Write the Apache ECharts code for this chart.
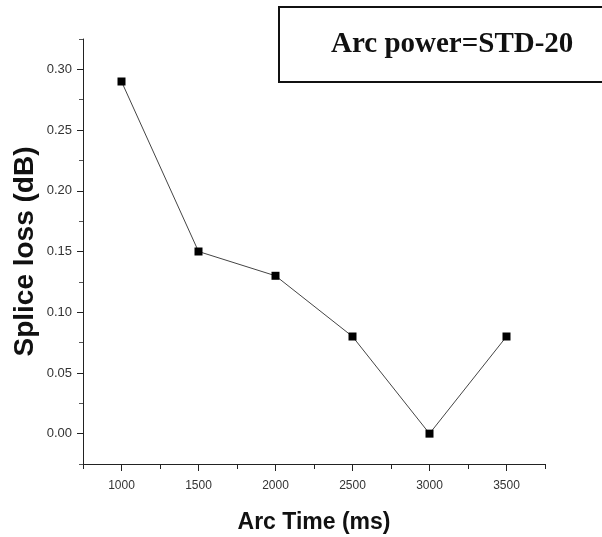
<!DOCTYPE html>
<html>
<head>
<meta charset="utf-8">
<script src="https://cdn.jsdelivr.net/npm/echarts@6/dist/echarts.min.js"></script>
<style>
  html, body { margin: 0; padding: 0; background: #fff; }
  #chart { width: 602px; height: 537px; }
</style>
</head>
<body>
<div id="chart"></div>
<script>
// arc time (ms) vs splice loss (dB)
const arcTime = [1000, 1500, 2000, 2500, 3000, 3500];
const spliceLoss = [0.29, 0.15, 0.13, 0.08, 0.00, 0.08];
const xMajorTicks = [1000, 1500, 2000, 2500, 3000, 3500];
const xMinorTicks = [750, 1250, 1750, 2250, 2750, 3250, 3750];
const yMajorTicks = [0, 0.05, 0.10, 0.15, 0.20, 0.25, 0.30];
const yMinorTicks = [-0.025, 0.025, 0.075, 0.125, 0.175, 0.225, 0.275, 0.325];

const chart = echarts.init(document.getElementById('chart'));

const axisColor = '#222';
const labelFont = 'Liberation Sans, Arial, sans-serif';

chart.setOption({
  animation: false,
  title: {
    text: 'Arc power=STD-20',
    left: 279,
    top: 7,
    padding: [23, 60, 23, 52],
    borderColor: '#111',
    borderWidth: 2,
    textStyle: {
      fontFamily: 'Liberation Serif, Times New Roman, serif',
      fontWeight: 'bold',
      fontSize: 29,
      color: '#111'
    }
  },
  grid: {
    left: 83,
    right: 57,
    top: 39,
    bottom: 73,
    outerBoundsMode: 'none'
  },
  xAxis: [
    {
      type: 'value',
      min: 750,
      max: 3750,
      name: 'Arc Time (ms)',
      nameLocation: 'middle',
      nameGap: 47,
      nameTextStyle: {
        fontFamily: labelFont,
        fontWeight: 'bold',
        fontSize: 23,
        color: '#111'
      },
      axisLine: { onZero: false, lineStyle: { color: axisColor, width: 1 } },
      axisTick: {
        inside: false,
        length: 7,
        customValues: xMajorTicks,
        lineStyle: { color: axisColor }
      },
      axisLabel: {
        customValues: xMajorTicks,
        margin: 16,
        fontFamily: labelFont,
        fontSize: 12,
        color: '#333',
        formatter: v => String(v)
      },
      splitLine: { show: false }
    },
    {
      type: 'value',
      position: 'bottom',
      min: 750,
      max: 3750,
      axisLine: { show: false, onZero: false },
      axisTick: {
        length: 5,
        customValues: xMinorTicks,
        lineStyle: { color: axisColor }
      },
      axisLabel: { show: false },
      splitLine: { show: false }
    }
  ],
  yAxis: [
    {
      type: 'value',
      min: -0.025,
      max: 0.325,
      name: 'Splice loss (dB)',
      nameLocation: 'middle',
      nameGap: 44,
      nameMoveOverlap: false,
      nameTextStyle: {
        fontFamily: labelFont,
        fontWeight: 'bold',
        fontSize: 28,
        color: '#111'
      },
      axisLine: { show: true, onZero: false, lineStyle: { color: axisColor, width: 1 } },
      axisTick: {
        show: true,
        length: 6,
        customValues: yMajorTicks,
        lineStyle: { color: axisColor }
      },
      axisLabel: {
        customValues: yMajorTicks,
        margin: 11,
        fontFamily: labelFont,
        fontSize: 13,
        color: '#333',
        formatter: v => v.toFixed(2)
      },
      splitLine: { show: false }
    },
    {
      type: 'value',
      position: 'left',
      min: -0.025,
      max: 0.325,
      axisLine: { show: false, onZero: false },
      axisTick: {
        show: true,
        length: 4,
        customValues: yMinorTicks,
        lineStyle: { color: '#555' }
      },
      axisLabel: { show: false },
      splitLine: { show: false }
    }
  ],
  series: [
    {
      type: 'line',
      data: arcTime.map((t, i) => [t, spliceLoss[i]]),
      symbol: 'rect',
      symbolSize: 8,
      itemStyle: { color: '#000' },
      lineStyle: { color: '#444', width: 1 }
    }
  ]
});
</script>
</body>
</html>
